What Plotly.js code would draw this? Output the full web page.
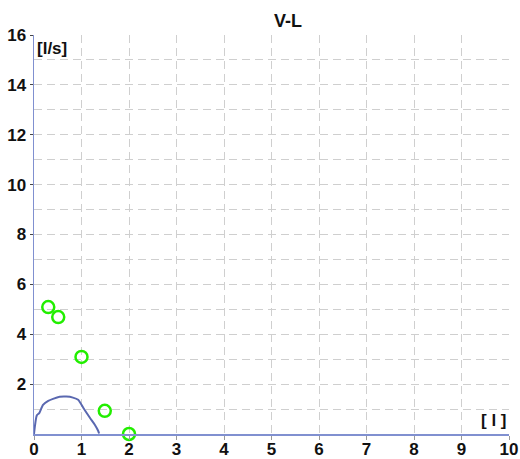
<!DOCTYPE html>
<html>
<head>
<meta charset="utf-8">
<script src="https://cdn.plot.ly/plotly-3.0.1.min.js"></script>
<style>
  html, body { margin: 0; padding: 0; background: #fff; }
  #chart { width: 520px; height: 459px; }
</style>
</head>
<body>
<div id="chart"></div>
<script>
// Measured flow-volume loop (volume in l, flow in l/s)
const loopVolume = [0.00, 0.06, 0.11, 0.19, 0.30, 0.40, 0.54, 0.68, 0.82, 0.93, 1.04, 1.18, 1.28, 1.35, 1.37];
const loopFlow   = [0.00, 0.75, 0.84, 1.17, 1.33, 1.41, 1.49, 1.50, 1.46, 1.37, 1.04, 0.64, 0.37, 0.13, 0.02];

// Predicted reference points
const refVolume = [0.30, 0.51, 1.00, 1.49, 2.00];
const refFlow   = [5.09, 4.69, 3.09, 0.93, 0.00];

// Axis ticks
const xTicks = [0, 1, 2, 3, 4, 5, 6, 7, 8, 9, 10];
const yTicks = [2, 4, 6, 8, 10, 12, 14, 16];

const font = { family: 'Liberation Sans, Arial, sans-serif', color: '#111' };
const gridColor = '#cfcfcf';
const axisColor = '#8090d0';

const traces = [
  {
    x: loopVolume, y: loopFlow, type: 'scatter', mode: 'lines',
    line: { color: '#5a68b0', width: 2, shape: 'spline', smoothing: 0.6 },
    hoverinfo: 'skip', cliponaxis: false
  },
  {
    x: refVolume, y: refFlow, type: 'scatter', mode: 'markers',
    marker: { symbol: 'circle-open', size: 12, color: '#22ee00', line: { width: 2.5, color: '#22ee00' } },
    cliponaxis: false
  }
];

const layout = {
  width: 520, height: 459,
  margin: { l: 34, r: 11, t: 35, b: 25 },
  paper_bgcolor: '#fff', plot_bgcolor: '#fff',
  showlegend: false,
  font: font,
  title: { text: '<b>V-L</b>', x: 288 / 520, xanchor: 'center', y: 1 - 21 / 459, yanchor: 'middle',
           font: { size: 18, family: font.family, color: '#111' } },
  xaxis: {
    range: [0, 10], fixedrange: true,
    tickvals: xTicks, ticktext: xTicks.map(v => '<b>' + v + '</b>'),
    tickfont: { size: 17, family: font.family, color: '#111' },
    ticks: 'outside', ticklen: 4, tickcolor: '#999', ticklabelstandoff: -5,
    showline: true, linecolor: axisColor, linewidth: 1.5,
    showgrid: true, gridcolor: gridColor, griddash: '8px,5px', gridwidth: 1,
    zeroline: false
  },
  yaxis: {
    range: [0, 16], fixedrange: true,
    tickvals: yTicks, ticktext: yTicks.map(v => '<b>' + v + '</b>'),
    tickfont: { size: 17, family: font.family, color: '#111' },
    ticks: 'outside', ticklen: 3, tickcolor: '#444', ticklabelstandoff: 0,
    showline: true, linecolor: axisColor, linewidth: 1.5,
    showgrid: true, gridcolor: gridColor, griddash: '8px,5px', gridwidth: 1,
    minor: { dtick: 1, tick0: 0, showgrid: true, gridcolor: gridColor, griddash: '8px,5px', gridwidth: 1, ticks: '' },
    zeroline: false
  },
  annotations: [
    { text: '<b>[l/s]</b>', xref: 'paper', yref: 'paper', x: 0.002, y: 0.995, xanchor: 'left', yanchor: 'top',
      showarrow: false, font: { size: 17, family: font.family, color: '#111' } },
    { text: '<b>[ l ]</b>', xref: 'paper', yref: 'paper', x: 1.0, y: 0.005, xanchor: 'right', yanchor: 'bottom',
      showarrow: false, font: { size: 17, family: font.family, color: '#111' } }
  ]
};

Plotly.newPlot('chart', traces, layout, { displayModeBar: false, staticPlot: true });
</script>
</body>
</html>
